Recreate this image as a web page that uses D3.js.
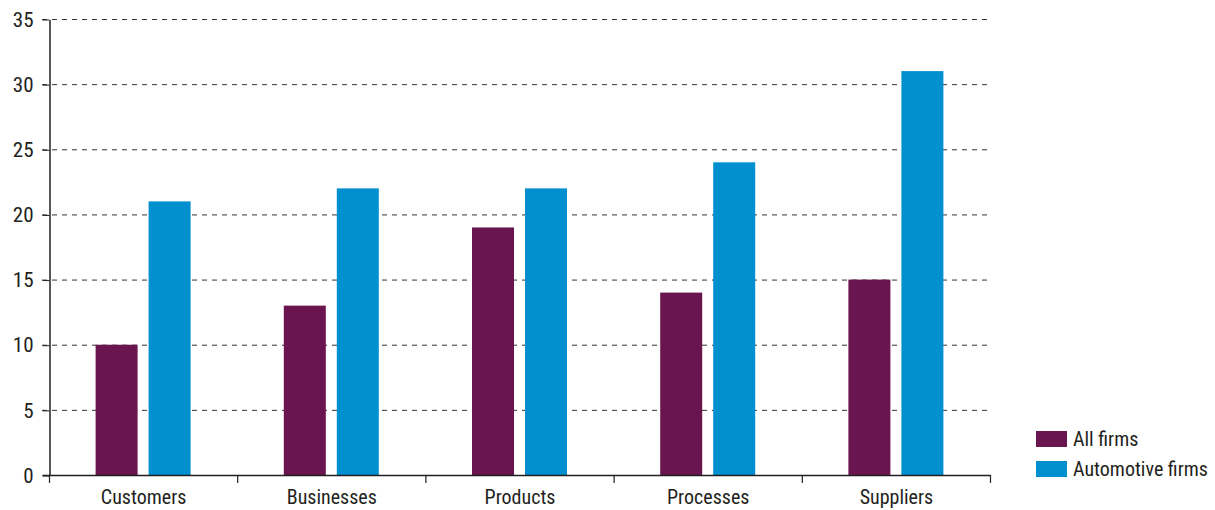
<!DOCTYPE html>
<html>
<head>
<meta charset="utf-8">
<script src="https://cdn.jsdelivr.net/npm/d3@7/dist/d3.min.js"></script>
<style>
  html, body { margin: 0; padding: 0; background: #fff; }
  svg text { font-family: "Liberation Sans Narrow", "Roboto Condensed", "Arial Narrow", sans-serif; fill: #231f20; }
</style>
</head>
<body>
<svg id="chart" width="1215" height="510"></svg>
<script>
const categories = ["Customers", "Businesses", "Products", "Processes", "Suppliers"];
const allFirms = [10, 13, 19, 14, 15];
const automotiveFirms = [21, 22, 22, 24, 31];
const seriesNames = ["All firms", "Automotive firms"];
const seriesColors = ["#6b1550", "#008fcf"];
const yTicks = [0, 5, 10, 15, 20, 25, 30, 35];

const svg = d3.select("#chart");
const plotLeft = 49, plotRight = 990, plotTop = 19, plotBottom = 475;

const x = d3.scaleBand().domain(categories).range([plotLeft, plotRight]).paddingInner(0).paddingOuter(0);
const y = d3.scaleLinear().domain([0, 35]).range([plotBottom, plotTop]);

const rows = categories.map((c, i) => ({ cat: c, values: [allFirms[i], automotiveFirms[i]] }));

// dashed gridlines
svg.append("g")
  .selectAll("line")
  .data(yTicks.filter(d => d > 0))
  .join("line")
  .attr("x1", plotLeft - 7).attr("x2", plotRight)
  .attr("y1", d => y(d) + 0.5).attr("y2", d => y(d) + 0.5)
  .attr("stroke", "#333").attr("stroke-width", 1)
  .attr("stroke-dasharray", "5,5");

// bars
const barW = 42, gap = 11;
const groups = svg.append("g").selectAll("g")
  .data(rows).join("g")
  .attr("transform", d => `translate(${x(d.cat) + x.bandwidth() / 2},0)`);
groups.selectAll("rect")
  .data(d => d.values)
  .join("rect")
  .attr("x", (d, i) => i === 0 ? -gap / 2 - barW : gap / 2)
  .attr("width", barW)
  .attr("y", d => y(d))
  .attr("height", d => plotBottom - y(d))
  .attr("fill", (d, i) => seriesColors[i]);

// y axis
const yAxis = svg.append("g")
  .attr("transform", `translate(${plotLeft + 0.5},0.5)`)
  .call(d3.axisLeft(y).tickValues(yTicks).tickSize(7).tickSizeOuter(0).tickPadding(9));
yAxis.select(".domain").attr("stroke", "#231f20").attr("stroke-width", 1.5);
yAxis.selectAll(".tick line").attr("stroke", "#231f20");
yAxis.selectAll("text").attr("font-size", 21).attr("fill", "#231f20");

// x axis
const xAxis = svg.append("g")
  .attr("transform", `translate(0.5,${plotBottom + 0.5})`)
  .call(d3.axisBottom(x).tickSize(0).tickPadding(14));
xAxis.select(".domain").attr("d", `M${plotLeft - 7},0H${plotRight}`).attr("stroke", "#231f20").attr("stroke-width", 1.5);
xAxis.selectAll("text").attr("font-size", 20).attr("fill", "#231f20");
svg.append("g")
  .selectAll("line")
  .data(categories.map(c => x(c)).concat([plotRight]))
  .join("line")
  .attr("x1", d => d + 0.5).attr("x2", d => d + 0.5)
  .attr("y1", plotBottom).attr("y2", plotBottom + 8)
  .attr("stroke", "#231f20").attr("stroke-width", 1.2);

// legend
const legend = svg.append("g").attr("transform", "translate(1036,431)");
const items = legend.selectAll("g").data(seriesNames).join("g")
  .attr("transform", (d, i) => `translate(0,${i * 30})`);
items.append("rect").attr("width", 31).attr("height", 16).attr("fill", (d, i) => seriesColors[i]);
items.append("text").attr("x", 37).attr("y", 15).attr("font-size", 20).text(d => d);
</script>
</body>
</html>
